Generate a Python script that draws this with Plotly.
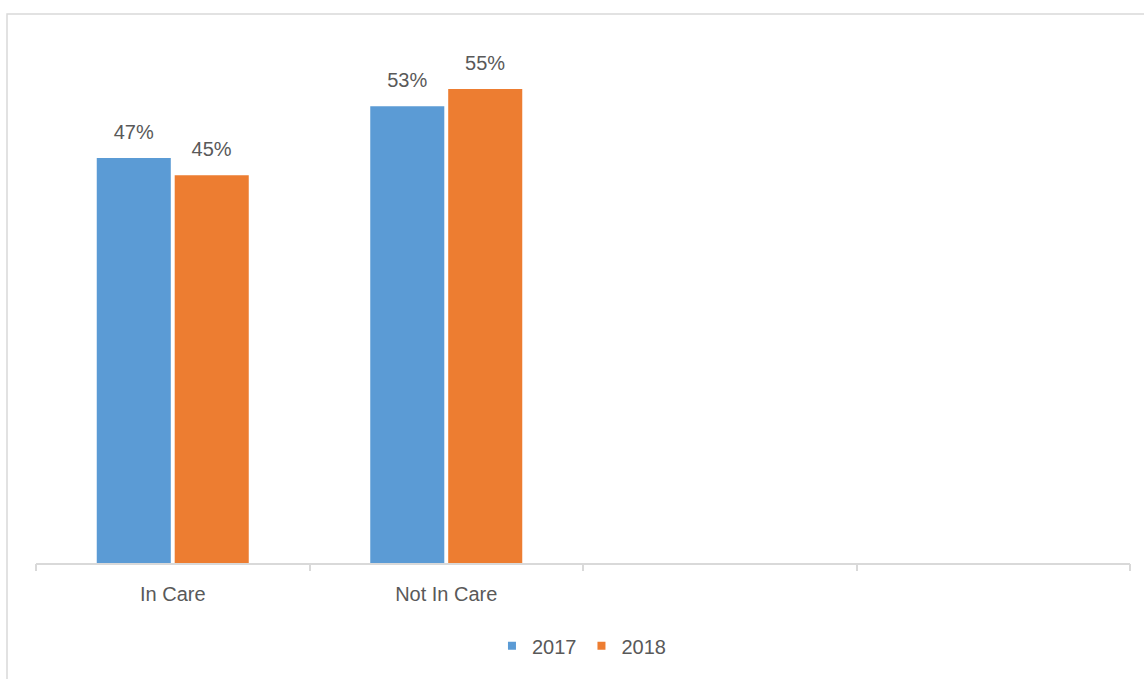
import plotly.graph_objects as go

categories = ["In Care", "Not In Care"]
n_slots = 4  # the chart reserves four category slots, two of them empty
years = ["2017", "2018"]
values_2017 = [47, 53]
values_2018 = [45, 55]
colors = {"2017": "#5B9BD5", "2018": "#ED7D31"}

label_pad = 1.45  # gap (in value units) between bar top and its data label
font_family = "Liberation Sans, Arial, sans-serif"
text_color = "#595959"
axis_color = "#D9D9D9"

fig = go.Figure()
for year, vals in zip(years, [values_2017, values_2018]):
    fig.add_trace(go.Bar(
        x=categories, y=vals, name=year, offsetgroup=year,
        marker=dict(color=colors[year], line=dict(width=0)),
        showlegend=False, hoverinfo="x+y",
    ))
    # transparent spacer carrying the data labels
    fig.add_trace(go.Bar(
        x=categories, y=[label_pad] * len(vals), base=vals, offsetgroup=year,
        marker=dict(color="rgba(0,0,0,0)", line=dict(width=0)),
        text=[f"{v}%" for v in vals], textposition="outside",
        outsidetextfont=dict(family=font_family, size=20, color=text_color),
        cliponaxis=False, showlegend=False, hoverinfo="skip",
    ))
    # legend entry
    fig.add_trace(go.Scatter(
        x=[None], y=[None], mode="markers", name=year,
        marker=dict(symbol="square", size=8, color=colors[year]),
    ))

# empty trace so the category-boundary tick axis gets drawn
fig.add_trace(go.Scatter(x=[None], y=[None], xaxis="x2", mode="markers",
                         showlegend=False, hoverinfo="skip"))

boundaries = [i - 0.5 for i in range(n_slots + 1)]

fig.update_layout(
    width=1144, height=679,
    paper_bgcolor="white", plot_bgcolor="white",
    margin=dict(l=36, r=14, t=46, b=116),
    barmode="group", bargap=0.43, bargroupgap=0.05,
    font=dict(family=font_family, size=20, color=text_color),
    legend=dict(orientation="h", x=0.4986, xanchor="center", y=-0.16, yanchor="middle",
                font=dict(size=20, color=text_color), itemwidth=30,
                bgcolor="rgba(0,0,0,0)"),
    xaxis=dict(
        type="category", categoryorder="array", categoryarray=categories,
        range=[-0.5, n_slots - 0.5], ticks="",
        showline=True, linecolor=axis_color, linewidth=1.5,
        showgrid=False, zeroline=False, ticklabelstandoff=12,
        tickfont=dict(size=20, color=text_color),
    ),
    xaxis2=dict(
        overlaying="x", anchor="y", side="bottom", type="linear",
        range=[-0.5, n_slots - 0.5], tickmode="array", tickvals=boundaries,
        ticks="outside", ticklen=7, tickcolor=axis_color, tickwidth=1.5,
        showticklabels=False, showline=False, showgrid=False, zeroline=False,
    ),
    yaxis=dict(range=[0, 60], visible=False, showgrid=False, zeroline=False),
    shapes=[dict(type="rect", xref="paper", yref="paper",
                 x0=-0.0265, x1=1.05, y0=-0.4, y1=1.0619,
                 line=dict(color=axis_color, width=1.5), layer="below")],
)

fig.write_html("out.html", config={"displayModeBar": False},
               post_script="document.body.style.margin='0';")
